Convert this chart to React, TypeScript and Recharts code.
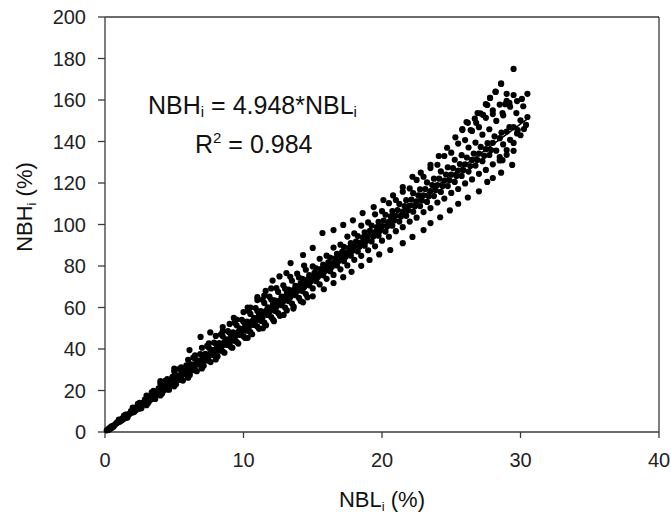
import React from "react";
import {
  ReferenceLine,
  Scatter,
  ScatterChart,
  XAxis,
  YAxis,
} from "recharts";

// NBL_i (%) vs NBH_i (%) — readings taken off the plot, grouped by the visible streaks of dots
const streakUpper: [number, number][] = [
  [4.0, 24.5], [5.0, 30.5], [6.1, 39.5], [6.9, 45.8], [7.6, 48.0], [8.5, 50.6],
  [9.3, 55.0], [10.3, 60.0], [11.0, 65.0], [11.6, 68.0], [12.1, 73.0], [12.6, 75.0],
  [13.1, 76.6], [13.4, 81.4], [14.3, 85.3], [15.0, 88.7], [15.7, 95.9], [16.5, 97.3],
  [17.2, 99.8], [17.9, 102.0], [18.6, 105.5], [19.4, 108.4], [20.1, 111.8], [20.8, 114.0],
  [21.5, 118.0], [22.2, 123.0], [22.8, 125.0], [23.5, 128.7], [24.1, 133.0], [24.7, 137.0],
  [25.3, 142.0], [25.8, 146.0], [26.2, 149.0], [26.7, 151.0], [27.1, 153.6], [27.5, 158.0],
  [27.8, 161.0], [28.2, 164.0], [28.6, 168.0], [29.5, 175.0],
];

const streakJ: [number, number][] = [
  [1, 6.0], [1.5, 8.4], [2, 11.8], [2.5, 14.1], [3, 17.6], [3.5, 19.8], [4, 23.3], [4.5, 25.5],
  [5, 29.1], [5.5, 31.2], [6, 34.8], [6.5, 37.0], [7, 40.6], [7.5, 42.7], [8, 46.3], [8.5, 48.5],
  [9, 52.1], [9.5, 54.2], [10, 57.8], [10.5, 60.0], [11, 63.6], [11.5, 65.7], [12, 69.2],
];

const streakF: [number, number][] = [
  [0.375, 2.3], [0.875, 4.6], [1.375, 7.9], [1.875, 10.1], [2.375, 13.6], [2.875, 15.6],
  [3.375, 19.1], [3.875, 21.0], [4.375, 24.8], [4.875, 26.6], [5.375, 30.4], [5.875, 32.1],
  [6.375, 35.9], [6.875, 37.6], [7.375, 41.5], [7.875, 43.1], [8.375, 47.1], [8.875, 48.6],
  [9.375, 52.6], [9.875, 54.1], [10.375, 58.2], [10.875, 59.7], [11.375, 63.7], [11.875, 65.2],
  [12.375, 69.3], [12.875, 70.7], [13.375, 74.8], [13.875, 76.3], [14.375, 80.2],
];

const streakA: [number, number][] = [
  [0.5, 2.9], [1, 5.2], [1.5, 8.3], [2, 10.6], [2.5, 13.6], [3, 15.9], [3.5, 19.1], [4, 21.2],
  [4.5, 24.4], [5, 26.6], [5.5, 29.8], [6, 31.9], [6.5, 35.3], [7, 37.2], [7.5, 40.6], [8, 42.5],
  [8.5, 46.1], [9, 47.8], [9.5, 51.4], [10, 53.1], [10.5, 56.9], [11, 58.3], [11.5, 62.2],
  [12, 63.8], [12.5, 67.5], [13, 69.0], [13.5, 72.9], [14, 74.4], [14.5, 78.2], [15, 79.8],
  [15.5, 83.5], [16, 85.0], [16.5, 88.9], [17, 90.3], [17.5, 94.2], [18, 95.7], [18.5, 99.5],
  [19, 101.0], [19.5, 104.9], [20, 106.4], [20.5, 110.3], [21, 111.8], [21.5, 115.8],
  [22, 117.4], [22.5, 121.5], [23, 123.0], [23.5, 127.2], [24, 128.8], [24.5, 133.0],
  [25, 134.6], [25.5, 139.0], [26, 140.7], [26.5, 145.1], [27, 146.9], [27.5, 151.4],
  [28, 153.2], [28.5, 157.8], [29, 159.6],
];

const streakB: [number, number][] = [
  [0.25, 1.5], [0.75, 3.7], [1.25, 6.6], [1.75, 8.8], [2.25, 11.9], [2.75, 14.0], [3.25, 17.0],
  [3.75, 19.0], [4.25, 22.2], [4.75, 24.2], [5.25, 27.3], [5.75, 29.3], [6.25, 32.6],
  [6.75, 34.4], [7.25, 37.7], [7.75, 39.5], [8.25, 42.9], [8.75, 44.7], [9.25, 48.0],
  [9.75, 49.8], [10.25, 53.2], [10.75, 55.0], [11.25, 58.3], [11.75, 60.1], [12.25, 63.5],
  [12.75, 65.3], [13.25, 68.6], [13.75, 70.4], [14.25, 73.8], [14.75, 75.6], [15.25, 78.9],
  [15.75, 80.7], [16.25, 84.1], [16.75, 85.9], [17.25, 89.2], [17.75, 91.0], [18.25, 94.4],
  [18.75, 96.2], [19.25, 99.5], [19.75, 101.3], [20.25, 104.7], [20.75, 106.5], [21.25, 109.9],
  [21.75, 111.7], [22.25, 115.1], [22.75, 116.9], [23.25, 120.3], [23.75, 122.1],
  [24.25, 125.6], [24.75, 127.6], [25.25, 131.2], [25.75, 133.4], [26.25, 137.1],
  [26.75, 139.5], [27.25, 143.3], [27.75, 145.9], [28.25, 149.9], [28.75, 152.6],
  [29.25, 156.8], [29.75, 159.5],
];

const streakG: [number, number][] = [
  [0.125, 0.8], [0.625, 3.0], [1.125, 5.9], [1.625, 8.0], [2.125, 10.9], [2.625, 13.0],
  [3.125, 16.1], [3.625, 18.0], [4.125, 21.1], [4.625, 23.1], [5.125, 26.2], [5.625, 28.1],
  [6.125, 31.2], [6.625, 33.2], [7.125, 36.3], [7.625, 38.2], [8.125, 41.3], [8.625, 43.3],
  [9.125, 46.4], [9.625, 48.3], [10.125, 51.4], [10.625, 53.4], [11.125, 56.5], [11.625, 58.4],
  [12.125, 61.5], [12.625, 63.5], [13.125, 66.6], [13.625, 68.5], [14.125, 71.6], [14.625, 73.6],
  [15.125, 76.7], [15.625, 78.6], [16.125, 81.7], [16.625, 83.7], [17.125, 86.8], [17.625, 88.7],
  [18.125, 91.8], [18.625, 93.8], [19.125, 96.9], [19.625, 98.8], [20.125, 101.9],
  [20.625, 103.9], [21.125, 107.0], [21.625, 108.9], [22.125, 112.0], [22.625, 114.0],
  [23.125, 117.1], [23.625, 119.0], [24.125, 122.1], [24.625, 124.1], [25.125, 127.2],
  [25.625, 129.1], [26.125, 132.3], [26.625, 134.2], [27.125, 137.4], [27.625, 139.2],
  [28.125, 142.5], [28.625, 144.3],
];

const streakC: [number, number][] = [
  [0.5, 2.3], [1, 5.1], [1.5, 7.2], [2, 10.1], [2.5, 12.2], [3, 15.1], [3.5, 17.1], [4, 20.0],
  [4.5, 22.1], [5, 25.0], [5.5, 27.0], [6, 29.9], [6.5, 32.0], [7, 34.9], [7.5, 36.9], [8, 39.8],
  [8.5, 41.9], [9, 44.8], [9.5, 46.8], [10, 49.7], [10.5, 51.8], [11, 54.7], [11.5, 56.7],
  [12, 59.6], [12.5, 61.7], [13, 64.6], [13.5, 66.6], [14, 69.5], [14.5, 71.6], [15, 74.5],
  [15.5, 76.5], [16, 79.4], [16.5, 81.5], [17, 84.4], [17.5, 86.4], [18, 89.3], [18.5, 91.4],
  [19, 94.3], [19.5, 96.3], [20, 99.2], [20.5, 101.3], [21, 104.2], [21.5, 106.2], [22, 109.1],
  [22.5, 111.2], [23, 114.1], [23.5, 116.1], [24, 119.0], [24.5, 121.1], [25, 124.0],
  [25.5, 126.0], [26, 129.0], [26.5, 131.1], [27, 134.2], [27.5, 136.3], [28, 139.4],
  [28.5, 141.6], [29, 144.8], [29.5, 146.9], [30, 150.2], [30.5, 151.8],
];

const streakI: [number, number][] = [
  [0.375, 1.6], [0.875, 4.5], [1.375, 6.5], [1.875, 9.3], [2.375, 11.4], [2.875, 14.2],
  [3.375, 16.2], [3.875, 19.1], [4.375, 21.1], [4.875, 23.9], [5.375, 26.0], [5.875, 28.8],
  [6.375, 30.8], [6.875, 33.7], [7.375, 35.7], [7.875, 38.6], [8.375, 40.6], [8.875, 43.4],
  [9.375, 45.5], [9.875, 48.3], [10.375, 50.3], [10.875, 53.2], [11.375, 55.2], [11.875, 58.0],
  [12.375, 60.1], [12.875, 62.9], [13.375, 64.9], [13.875, 67.8], [14.375, 69.8], [14.875, 72.6],
  [15.375, 74.7], [15.875, 77.5], [16.375, 79.5], [16.875, 82.4], [17.375, 84.4], [17.875, 87.3],
  [18.375, 89.3], [18.875, 92.1], [19.375, 94.2], [19.875, 97.0], [20.375, 99.0],
  [20.875, 101.9], [21.375, 103.9], [21.875, 106.7], [22.375, 108.8], [22.875, 111.6],
  [23.375, 113.6], [23.875, 116.5], [24.375, 118.5], [24.875, 121.3], [25.375, 123.4],
  [25.875, 126.2], [26.375, 128.2], [26.875, 131.1], [27.375, 133.1], [27.875, 135.9],
];

const streakD: [number, number][] = [
  [0.25, 1.0], [0.75, 3.8], [1.25, 5.8], [1.75, 8.6], [2.25, 10.6], [2.75, 13.3], [3.25, 15.3],
  [3.75, 18.1], [4.25, 20.1], [4.75, 22.9], [5.25, 24.9], [5.75, 27.7], [6.25, 29.7],
  [6.75, 32.5], [7.25, 34.5], [7.75, 37.2], [8.25, 39.2], [8.75, 42.0], [9.25, 44.0],
  [9.75, 46.8], [10.25, 48.8], [10.75, 51.6], [11.25, 53.6], [11.75, 56.4], [12.25, 58.4],
  [12.75, 61.1], [13.25, 63.1], [13.75, 65.9], [14.25, 67.9], [14.75, 70.7], [15.25, 72.7],
  [15.75, 75.5], [16.25, 77.5], [16.75, 80.3], [17.25, 82.3], [17.75, 85.0], [18.25, 87.0],
  [18.75, 89.8], [19.25, 91.8], [19.75, 94.6], [20.25, 96.6], [20.75, 99.4], [21.25, 101.4],
  [21.75, 104.2], [22.25, 106.2], [22.75, 108.9], [23.25, 110.9], [23.75, 113.7],
  [24.25, 115.7], [24.75, 118.5], [25.25, 120.5], [25.75, 123.4], [26.25, 125.5],
  [26.75, 128.4], [27.25, 130.5], [27.75, 133.5], [28.25, 135.6], [28.75, 138.6],
  [29.25, 140.8], [29.75, 143.9], [30.25, 146.0],
];

const streakE: [number, number][] = [
  [0.5, 2.1], [1, 4.8], [1.5, 6.7], [2, 9.4], [2.5, 11.3], [3, 14.0], [3.5, 15.9], [4, 18.6],
  [4.5, 20.5], [5, 23.2], [5.5, 25.1], [6, 27.8], [6.5, 29.7], [7, 32.4], [7.5, 34.3], [8, 37.0],
  [8.5, 38.9], [9, 41.6], [9.5, 43.5], [10, 46.2], [10.5, 48.1], [11, 50.8], [11.5, 52.7],
  [12, 55.4], [12.5, 57.3], [13, 60.0], [13.5, 61.9], [14, 64.6], [14.5, 66.5], [15, 69.2],
  [15.5, 71.1], [16, 73.8], [16.5, 75.7], [17, 78.4], [17.5, 80.3], [18, 83.0], [18.5, 84.9],
  [19, 87.6], [19.5, 89.5], [20, 92.2], [20.5, 94.1], [21, 96.8], [21.5, 98.7], [22, 101.4],
  [22.5, 103.3], [23, 106.0], [23.5, 107.9], [24, 110.6], [24.5, 112.5], [25, 115.2],
  [25.5, 117.1], [26, 119.8], [26.5, 121.7], [27, 124.4], [27.5, 126.3], [28, 129.0],
  [28.5, 130.9], [29, 133.6], [29.5, 135.5],
];

const streakH: [number, number][] = [
  [0.625, 2.6], [1.125, 5.2], [1.625, 7.0], [2.125, 9.7], [2.625, 11.5], [3.125, 14.1],
  [3.625, 15.9], [4.125, 18.6], [4.625, 20.4], [5.125, 23.0], [5.625, 24.8], [6.125, 27.5],
  [6.625, 29.3], [7.125, 31.9], [7.625, 33.7], [8.125, 36.4], [8.625, 38.2], [9.125, 40.8],
  [9.625, 42.6], [10.125, 45.3], [10.625, 47.1], [11.125, 49.7], [11.625, 51.5], [12.125, 54.2],
  [12.625, 56.0], [13.125, 58.6], [13.625, 60.4], [14.125, 63.1], [14.625, 64.9],
];

const streakLower: [number, number][] = [
  [3, 12.9], [4, 17.6], [5, 22.0], [6, 26.2], [7, 30.6], [8, 35.0], [9.2, 40.6], [10.3, 45.4],
  [11.4, 50.0], [12.2, 53.4], [12.9, 56.4], [13.6, 59.5], [14.3, 62.5], [15.0, 65.4],
  [15.8, 68.8], [16.5, 71.8], [17.2, 74.6], [17.8, 77.2], [18.5, 80.1], [19.1, 82.9],
  [19.8, 85.6], [20.6, 87.7], [21.5, 91.0], [22.2, 94.0], [23.0, 97.3], [23.5, 100.7],
  [24.2, 103.5], [24.9, 106.8], [25.5, 110.0], [26.2, 113.0], [27.0, 116.0], [27.6, 120.5],
  [28.6, 125.0], [29.4, 128.7],
];

const cloudTopRight: [number, number][] = [
  [28.6, 167.7], [28.2, 163.9], [29, 163], [29.5, 162.4], [30.5, 163], [30.1, 160.5],
  [30.2, 157], [29.2, 158.6], [28.9, 158], [27.8, 161], [27.6, 157.6], [28, 155], [28.7, 153.7],
  [29.7, 153.7], [26.9, 153.7], [26.1, 149.4], [26.8, 149], [27.3, 152.8], [26.4, 145.5],
  [25.8, 145.5], [28.7, 131], [28, 122.4], [29.5, 139.3], [29, 135.9], [28.5, 132.5],
  [29.2, 147], [29.8, 145.5], [30.4, 148], [30, 143],
];

// fitted line NBH = 4.948 * NBL, drawn over the data range
const fitEnds = [
  { x: 0, y: 0 },
  { x: 30.5, y: 150.9 },
];

const xTicks = [0, 10, 20, 30, 40];
const yTicks = [0, 20, 40, 60, 80, 100, 120, 140, 160, 180, 200];

const allStreaks = [
  streakUpper, streakJ, streakF, streakA, streakB, streakG, streakC,
  streakI, streakD, streakE, streakH, streakLower, cloudTopRight,
];

const FONT = "'Liberation Sans', Arial, sans-serif";
const AXIS = "#3a3a3a";

const Dot = (p: any) => <circle cx={p.cx} cy={p.cy} r={3.1} fill="#000" />;

export default function App() {
  const series = allStreaks.map((s) => s.map(([x, y]) => ({ x, y })));

  return (
    <div style={{ position: "absolute", left: 0, top: 0, width: 671, height: 520, background: "#fff" }}>
      <ScatterChart width={671} height={520} margin={{ top: 17, right: 12, bottom: 0, left: 0 }}>
        <XAxis
          type="number"
          dataKey="x"
          domain={[0, 40]}
          ticks={xTicks}
          height={88}
          stroke={AXIS}
          strokeWidth={1.3}
          tickSize={6}
          tickMargin={15}
          tick={{ fontSize: 20, fill: "#222", fontFamily: FONT }}
        />
        <YAxis
          type="number"
          dataKey="y"
          domain={[0, 200]}
          ticks={yTicks}
          width={105}
          stroke={AXIS}
          strokeWidth={1.3}
          tickSize={7}
          tickMargin={12}
          tick={{ fontSize: 20, fill: "#222", fontFamily: FONT }}
        />
        <ReferenceLine y={200} stroke={AXIS} strokeWidth={1.3} />
        <ReferenceLine x={40} stroke={AXIS} strokeWidth={1.3} />
        {series.map((d, i) => (
          <Scatter key={i} data={d} shape={Dot} isAnimationActive={false} />
        ))}
        <ReferenceLine segment={fitEnds} stroke="#000" strokeWidth={1.6} />
      </ScatterChart>

      {/* titles and fit annotation */}
      <svg
        width={671}
        height={520}
        style={{ position: "absolute", left: 0, top: 0, pointerEvents: "none" }}
        fontFamily={FONT}
      >
        <text x={382} y={507} fontSize={22} textAnchor="middle" fill="#111">
          NBL<tspan fontSize={13} dy={4}>i</tspan>
          <tspan dy={-4}> (%)</tspan>
        </text>
        <text x={32} y={207} fontSize={22} textAnchor="middle" fill="#111" transform="rotate(-90, 32, 207)">
          NBH<tspan fontSize={13} dy={4}>i</tspan>
          <tspan dy={-4}> (%)</tspan>
        </text>
        <text x={148} y={114} fontSize={25} fill="#111">
          NBH<tspan fontSize={15} dy={3}>i</tspan>
          <tspan dy={-3}> = 4.948*NBL</tspan>
          <tspan fontSize={15} dy={3}>i</tspan>
        </text>
        <text x={195} y={153} fontSize={25} fill="#111">
          R<tspan fontSize={15} dy={-10}>2</tspan>
          <tspan dy={10}> = 0.984</tspan>
        </text>
      </svg>
    </div>
  );
}
